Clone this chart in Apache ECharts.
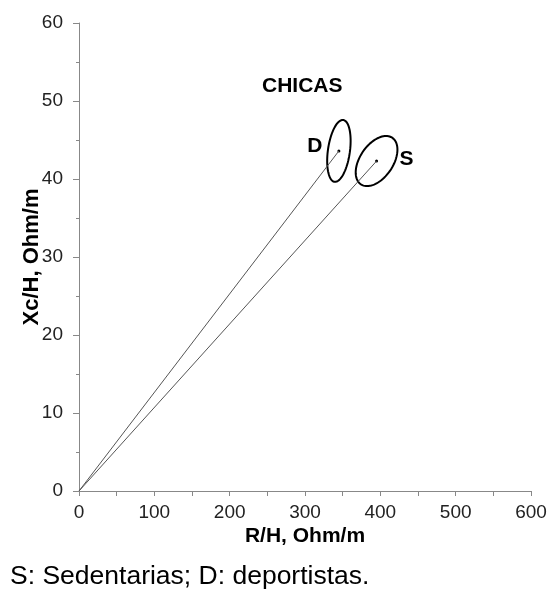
<!DOCTYPE html>
<html>
<head>
<meta charset="utf-8">
<script src="https://cdn.jsdelivr.net/npm/echarts@6/dist/echarts.min.js"></script>
<style>
  html, body { margin: 0; padding: 0; background: #fff; }
  #chart { width: 550px; height: 593px; }
</style>
</head>
<body>
<div id="chart"></div>
<script>
// groups: D = deportistas, S = sedentarias
var groups = ['D', 'S'];
var centerR = [345, 395];      // R/H, Ohm/m
var centerXc = [43.6, 42.3];   // Xc/H, Ohm/m
// ellipse half-width (R units), half-height (Xc units), tilt (deg, clockwise)
var ellHalfR = [14.6, 22];
var ellHalfXc = [4.0, 3.6];
var ellTilt = [8, 34];

var xTicks = [0, 600, 100];
var yTicks = [0, 60, 10];

function draw() {
    var chart = echarts.init(document.getElementById('chart'));

    var lineSeries = groups.map(function (g, i) {
        return {
            name: g,
            type: 'line',
            data: [[0, 0], [centerR[i], centerXc[i]]],
            symbol: 'none',
            lineStyle: { color: '#555', width: 1 },
            silent: true,
            animation: false
        };
    });

    var ellData = groups.map(function (g, i) {
        return [centerR[i], centerXc[i], ellHalfR[i], ellHalfXc[i], ellTilt[i], i];
    });

    var option = {
        backgroundColor: '#fff',
        animation: false,
        title: {
            text: 'CHICAS',
            left: 257,
            top: 71,
            textStyle: { fontFamily: 'Liberation Sans, Arial', fontSize: 21, fontWeight: 'bold', color: '#000' }
        },
        grid: { left: 79, right: 19, top: 23, bottom: 102 },
        xAxis: {
            type: 'value',
            min: xTicks[0], max: xTicks[1], interval: xTicks[2],
            name: 'R/H, Ohm/m',
            nameLocation: 'middle',
            nameGap: 35,
            nameMoveOverlap: false,
            nameTextStyle: { fontFamily: 'Liberation Sans, Arial', fontSize: 21, fontWeight: 'bold', color: '#000' },
            axisLine: { lineStyle: { color: '#888' } },
            axisTick: { length: 5, lineStyle: { color: '#888' } },
            minorTick: { show: true, splitNumber: 2, length: 5, lineStyle: { color: '#888' } },
            axisLabel: { fontFamily: 'Liberation Sans, Arial', fontSize: 19, color: '#222', margin: 12 },
            splitLine: { show: false }
        },
        yAxis: {
            type: 'value',
            min: yTicks[0], max: yTicks[1], interval: yTicks[2],
            name: 'Xc/H, Ohm/m',
            nameLocation: 'middle',
            nameGap: 36,
            nameMoveOverlap: false,
            nameTextStyle: { fontFamily: 'Liberation Sans, Arial', fontSize: 22, fontWeight: 'bold', color: '#000' },
            axisLine: { show: true, lineStyle: { color: '#888' } },
            axisTick: { show: true, length: 6, lineStyle: { color: '#888' } },
            minorTick: { show: true, splitNumber: 2, length: 3, lineStyle: { color: '#888' } },
            axisLabel: { fontFamily: 'Liberation Sans, Arial', fontSize: 19, color: '#222', margin: 16 },
            splitLine: { show: false }
        },
        graphic: [{
            type: 'text',
            left: 10,
            top: 563,
            style: { text: 'S: Sedentarias; D: deportistas.', font: '26.5px "Liberation Sans", Arial', fill: '#000' }
        }],
        series: lineSeries.concat([{
            type: 'custom',
            data: ellData,
            silent: true,
            renderItem: function (params, api) {
                var c = api.coord([api.value(0), api.value(1)]);
                var sz = api.size([api.value(2), api.value(3)]);
                var rx = sz[0], ry = sz[1];
                var t = api.value(4) * Math.PI / 180;
                var pts = [];
                for (var k = 0; k < 90; k++) {
                    var a = k / 90 * Math.PI * 2;
                    var ex = rx * Math.cos(a), ey = ry * Math.sin(a);
                    pts.push([c[0] + ex * Math.cos(t) - ey * Math.sin(t),
                              c[1] + ex * Math.sin(t) + ey * Math.cos(t)]);
                }
                var idx = api.value(5);
                var lbl = groups[idx];
                var off = idx === 0 ? [-24, -5] : [30, -2];
                return {
                    type: 'group',
                    children: [{
                        type: 'polygon',
                        shape: { points: pts },
                        style: { fill: 'none', stroke: '#000', lineWidth: 2 }
                    }, {
                        type: 'circle',
                        shape: { cx: c[0], cy: c[1], r: 1.5 },
                        style: { fill: '#000' }
                    }, {
                        type: 'text',
                        x: c[0] + off[0],
                        y: c[1] + off[1],
                        style: { text: lbl, font: 'bold 21px "Liberation Sans", Arial', fill: '#000', align: 'center', verticalAlign: 'middle' }
                    }]
                };
            }
        }])
    };

    chart.setOption(option);
    window.onresize = chart.resize;
}

draw();
</script>
</body>
</html>
